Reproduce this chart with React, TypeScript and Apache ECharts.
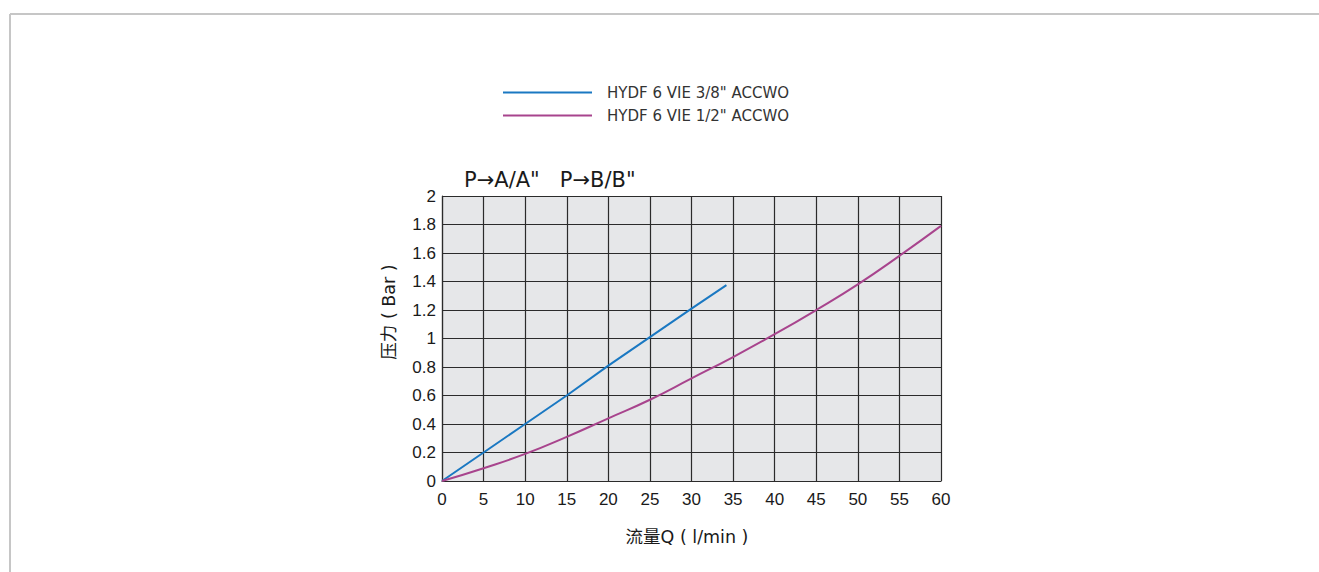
import React, { useEffect, useRef } from "react";
import * as echarts from "echarts";

const seriesNames = ['HYDF 6 VIE 3/8" ACCWO', 'HYDF 6 VIE 1/2" ACCWO'];
const blueFlow = [0, 5, 10, 15, 20, 25, 30, 34.2];
const bluePressure = [0, 0.2, 0.4, 0.6, 0.81, 1.01, 1.21, 1.375];
const purpleFlow = [0, 5, 10, 15, 20, 25, 30, 35, 40, 45, 50, 55, 60];
const purplePressure = [0, 0.09, 0.19, 0.31, 0.44, 0.57, 0.72, 0.87, 1.03, 1.2, 1.38, 1.58, 1.79];
const chartTitle = 'P→A/A"   P→B/B"';
const xName = "流量Q ( l/min )";
const yName = "压力 ( Bar )";

const FONT = '"Liberation Sans", Arial, "Noto Sans CJK SC", sans-serif';
const WIDE = '"DejaVu Sans", "Noto Sans CJK SC", sans-serif';

export default function App() {
  const ref = useRef<HTMLDivElement>(null);
  useEffect(() => {
    document.body.style.margin = "0";
    const chart = echarts.init(ref.current!, null, { renderer: "svg" });
    const gridLine = { lineStyle: { color: "#2b2b2b", width: 1.2 } };
    chart.setOption({
      animation: false,
      backgroundColor: "#ffffff",
      textStyle: { fontFamily: FONT },
      title: {
        text: chartTitle,
        left: 459,
        top: 164,
        textStyle: { fontSize: 21, fontWeight: "normal", color: "#1a1a1a", fontFamily: WIDE },
      },
      legend: {
        orient: "vertical",
        left: 498,
        top: 80,
        itemWidth: 89,
        itemHeight: 2,
        itemGap: 8,
        icon: "rect",
        textStyle: { fontSize: 15, color: "#333333", padding: [0, 0, 0, 10], fontFamily: WIDE },
        data: seriesNames,
      },
      graphic: [
        { type: "line", shape: { x1: 10, y1: 14, x2: 1319, y2: 14 }, style: { stroke: "#c6c6c6", lineWidth: 2 } },
        { type: "line", shape: { x1: 10, y1: 14, x2: 10, y2: 572 }, style: { stroke: "#c6c6c6", lineWidth: 2 } },
        {
          type: "text",
          x: 389,
          y: 312,
          rotation: Math.PI / 2,
          style: {
            text: yName,
            fontSize: 17.5,
            fontFamily: WIDE,
            fill: "#1a1a1a",
            align: "center",
            verticalAlign: "middle",
          },
        },
        {
          type: "text",
          x: 687,
          y: 537,
          style: {
            text: xName,
            fontSize: 17.5,
            fontFamily: WIDE,
            fill: "#1a1a1a",
            align: "center",
            verticalAlign: "middle",
          },
        },
      ],
      grid: { left: 442, right: 378, top: 196, bottom: 91, show: true, backgroundColor: "#e6e7e9", borderWidth: 0 },
      xAxis: {
        type: "value",
        min: 0,
        max: 60,
        interval: 5,
        axisLine: { show: true, lineStyle: { color: "#2b2b2b", width: 1.2 } },
        axisTick: { show: false },
        axisLabel: { fontSize: 17, color: "#1a1a1a", margin: 10, fontFamily: FONT },
        splitLine: { show: true, ...gridLine },
      },
      yAxis: {
        type: "value",
        min: 0,
        max: 2,
        interval: 0.2,
        axisLine: { show: true, lineStyle: { color: "#2b2b2b", width: 1.2 } },
        axisTick: { show: false },
        axisLabel: {
          fontSize: 17,
          color: "#1a1a1a",
          margin: 6,
          fontFamily: FONT,
          formatter: (v: number) => String(+v.toFixed(1)),
        },
        splitLine: { show: true, ...gridLine },
      },
      series: [
        {
          name: seriesNames[0],
          type: "line",
          showSymbol: false,
          symbol: "none",
          smooth: false,
          color: "#1a78c2",
          lineStyle: { width: 2, color: "#1a78c2" },
          data: blueFlow.map((x, i) => [x, bluePressure[i]]),
        },
        {
          name: seriesNames[1],
          type: "line",
          showSymbol: false,
          symbol: "none",
          smooth: true,
          color: "#a8448d",
          lineStyle: { width: 2, color: "#a8448d" },
          data: purpleFlow.map((x, i) => [x, purplePressure[i]]),
        },
      ],
    });
    return () => chart.dispose();
  }, []);
  return <div ref={ref} style={{ width: 1319, height: 572 }} />;
}
